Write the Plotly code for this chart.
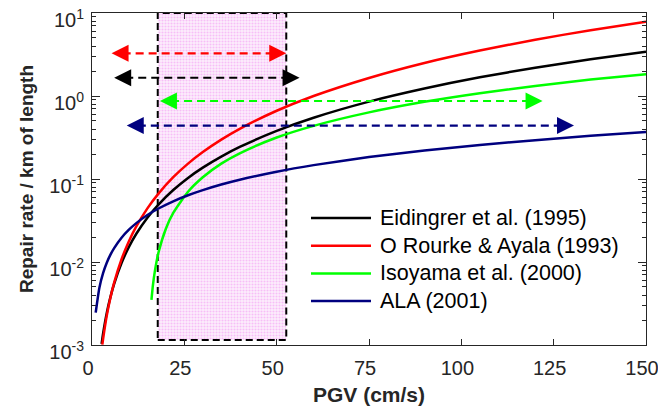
import math
import plotly.graph_objects as go

# ---------------- data ----------------
pgv_black = [2.6, 3, 4, 5, 6, 8, 10, 12, 15, 18, 22, 26, 30, 35, 40, 50, 60, 75, 90, 105, 120, 135, 150]
rr_black = [0.00103, 0.00137, 0.00243, 0.0038, 0.00547, 0.00973, 0.0152, 0.0219, 0.0342, 0.0492,
            0.0736, 0.103, 0.137, 0.186, 0.243, 0.38, 0.547, 0.855, 1.23, 1.68, 2.19, 2.77, 3.42]

pgv_red = [2.8, 3, 4, 5, 6, 8, 10, 12, 15, 18, 22, 26, 30, 35, 40, 50, 60, 75, 90, 105, 120, 135, 150]
rr_red = [0.00101, 0.00118, 0.00226, 0.00374, 0.00564, 0.0108, 0.0178, 0.0268, 0.0443, 0.0667,
          0.105, 0.153, 0.211, 0.298, 0.402, 0.664, 1.00, 1.65, 2.50, 3.53, 4.76, 6.21, 7.84]

pgv_green = [16.1, 16.5, 17, 18, 20, 22, 26, 30, 35, 40, 50, 60, 75, 90, 105, 120, 135, 150]
rr_green = [0.0035, 0.00527, 0.00766, 0.0130, 0.0252, 0.0390, 0.0703, 0.105, 0.153, 0.204,
            0.316, 0.437, 0.635, 0.851, 1.081, 1.323, 1.577, 1.83]

pgv_navy = [1, 2, 3, 4, 5, 6, 8, 10, 12, 15, 18, 22, 26, 30, 35, 40, 50, 60, 75, 90, 105, 120, 135, 150]
rr_navy = [0.00245, 0.0049, 0.00735, 0.0098, 0.01225, 0.0147, 0.0196, 0.0245, 0.0294, 0.0368,
           0.0441, 0.0539, 0.0637, 0.0735, 0.0858, 0.098, 0.1225, 0.147, 0.184, 0.2205, 0.257,
           0.294, 0.331, 0.3675]

series_names = ["Eidingrer et al. (1995)", "O Rourke & Ayala (1993)", "Isoyama et al. (2000)", "ALA (2001)"]
series_colors = ["#000000", "#FF0000", "#00FF00", "#00007F"]

# PGV range arrows (start, end, level) - order: black, red, green, navy
arrow_start = [6.0, 5.3, 18.4, 9.4]
arrow_end = [56.2, 52.6, 122.0, 130.5]
arrow_level = [1.66, 3.27, 0.87, 0.44]

# shaded PGV band
band_x = [17.8, 52.6]
band_y = [0.00115, 10]

x_ticks = [0, 25, 50, 75, 100, 125, 150]
y_ticks = [0.001, 0.01, 0.1, 1, 10]
y_ticktext = ["10<sup>-3</sup>", "10<sup>-2</sup>", "10<sup>-1</sup>", "10<sup>0</sup>", "10<sup>1</sup>"]
y_minor = [k * 10 ** e for e in range(-3, 1) for k in range(2, 10)]

FONT = "Liberation Sans, Arial, sans-serif"
AX = "#262626"

fig = go.Figure()

# shaded band with dashed border
fig.add_trace(go.Scatter(
    x=[band_x[0], band_x[1], band_x[1], band_x[0], band_x[0]],
    y=[band_y[0], band_y[0], band_y[1], band_y[1], band_y[0]],
    mode="lines", fill="toself",
    fillcolor="rgba(0,0,0,0)",
    fillpattern=dict(shape=".", fgcolor="#F090F0", bgcolor="#FCEEFC", size=3, solidity=0.4),
    line=dict(color="black", width=2, dash="7px,4px"),
    showlegend=False, hoverinfo="skip"))

for xs, ys, name, col in zip([pgv_black, pgv_red, pgv_green, pgv_navy],
                             [rr_black, rr_red, rr_green, rr_navy],
                             series_names, series_colors):
    fig.add_trace(go.Scatter(x=xs, y=ys, mode="lines", name=name, showlegend=False,
                             line=dict(color=col, width=2.5, shape="spline", smoothing=0.6)))

annots = []
for x0, x1, lv, col in zip(arrow_start, arrow_end, arrow_level, series_colors):
    fig.add_trace(go.Scatter(x=[x0 + 3, x1 - 3], y=[lv, lv], mode="lines",
                             line=dict(color=col, width=2.2, dash="8px,5px"),
                             showlegend=False, hoverinfo="skip"))
    for tip, dx in [(x0, 15), (x1, -15)]:
        annots.append(dict(x=tip, y=math.log10(lv), xref="x", yref="y", text="",
                           showarrow=True, ax=dx, ay=0, arrowhead=2, arrowsize=1.7,
                           arrowwidth=2, arrowcolor=col))

# legend drawn inside the axes (line samples + labels)
shapes = []
leg_x0, leg_x1, leg_tx = 0.3953, 0.5036, 0.5162
leg_y0, leg_dy = 0.3825, 0.0834
for i, (name, col) in enumerate(zip(series_names, series_colors)):
    yy = leg_y0 - i * leg_dy
    shapes.append(dict(type="line", xref="paper", yref="paper", x0=leg_x0, x1=leg_x1,
                       y0=yy, y1=yy, line=dict(color=col, width=2.5)))
    annots.append(dict(x=leg_tx, y=yy, xref="paper", yref="paper", text=name,
                       showarrow=False, xanchor="left", yanchor="middle",
                       font=dict(size=21.5, color="black")))

# the page adds an 8px body margin, so the figure is sized to fit inside the window
fig.update_layout(
    width=658, height=398,
    margin=dict(l=84, r=20, t=5, b=61),
    paper_bgcolor="white", plot_bgcolor="white",
    font=dict(family=FONT, color=AX, size=20),
    annotations=annots, shapes=shapes, showlegend=False,
    xaxis=dict(range=[0, 150], tickvals=x_ticks, ticks="inside", ticklen=6,
               tickcolor=AX, showline=True, linecolor=AX, linewidth=1, mirror="ticks",
               showgrid=False, zeroline=False, automargin=False,
               tickfont=dict(size=20), ticklabelstandoff=5, ticklabeloverflow="allow",
               ticklabelshift=-4,
               title=dict(text="<b>PGV (cm/s)</b>", font=dict(size=21), standoff=9)),
    yaxis=dict(type="log", range=[-3, 1], tickvals=y_ticks, ticktext=y_ticktext,
               ticks="inside", ticklen=8, tickcolor=AX, showline=True, linecolor=AX,
               linewidth=1, mirror="ticks", showgrid=False, zeroline=False, automargin=False,
               tickfont=dict(size=20), ticklabelstandoff=3, ticklabeloverflow="allow",
               ticklabelshift=7,
               minor=dict(tickvals=y_minor, ticks="inside", ticklen=4, tickcolor=AX, showgrid=False),
               title=dict(text="<b>Repair rate / km of length</b>", font=dict(size=19), standoff=10)),
)

fig.write_html("out.html")
